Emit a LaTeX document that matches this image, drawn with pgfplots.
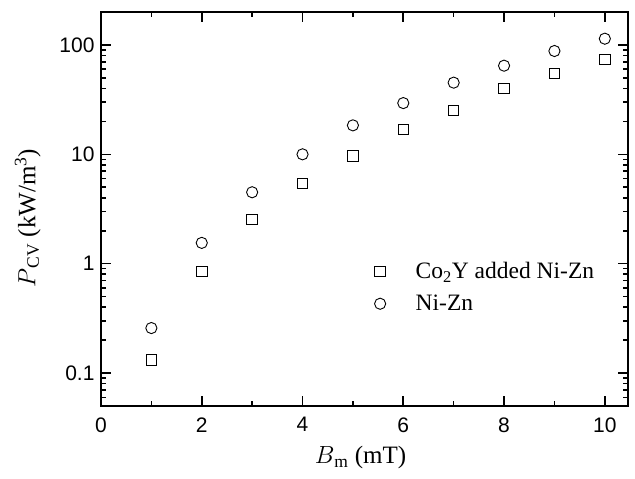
\documentclass[border=0pt]{standalone}
\usepackage{fontspec}
\setmainfont{Liberation Serif}
\newfontfamily\arialf{Liberation Sans}
\usepackage{pgfplots}
\pgfplotsset{compat=1.18}
\begin{document}
\begin{tikzpicture}
\begin{axis}[
  name=ax,
  scale only axis,
  width=527bp, height=394bp,
  ymode=log,
  xmin=0, xmax=10.46,
  ymin=0.05, ymax=200,
  xtick={0,2,...,10},
  minor xtick={1,3,...,9},
  ytick={0.1,1,10,100},
  yticklabels={0.1,1,10,100},
  minor ytick={0.05,0.06,0.07,0.08,0.09,0.2,0.3,0.4,0.5,0.6,0.7,0.8,0.9,2,3,4,5,6,7,8,9,20,30,40,50,60,70,80,90,200},
  tick align=inside,
  major tick length=10bp,
  minor tick length=5bp,
  axis line style={line width=1.6bp},
  every tick/.style={line width=1.6bp, black},
  /pgf/number format/assume math mode=true,
  tick label style={font=\arialf\fontsize{21bp}{24bp}\selectfont},
  xticklabel style={yshift=-8bp},
  yticklabel style={xshift=-3bp},
  xlabel={$B$\textsubscript{m} (mT)},
  ylabel={$P$\textsubscript{CV} (kW/m\textsuperscript{3})},
  label style={font=\fontsize{25bp}{28bp}\selectfont},
  xlabel style={yshift=-7bp, xshift=-4bp},
  ylabel style={yshift=12bp, xshift=-9bp},
  legend style={draw=none, fill=none, at={(0.513,0.375)}, anchor=north west,
    font=\fontsize{23.5bp}{27bp}\selectfont, column sep=28bp, row sep=11bp,
    legend cell align=left},
]
\addplot[only marks, mark=square, mark size=5.2bp, line width=0.9bp, black] coordinates {
(1,0.132) (2,0.845) (3,2.54) (4,5.43) (5,9.7) (6,16.8) (7,25.2) (8,39.8) (9,55) (10,74)};
\addlegendentry{Co\textsubscript{2}Y added Ni-Zn}
\addplot[only marks, mark=o, mark size=5.6bp, line width=0.9bp, black] coordinates {
(1,0.258) (2,1.55) (3,4.5) (4,10) (5,18.4) (6,29.4) (7,45.2) (8,64.6) (9,88) (10,114)};
\addlegendentry{Ni-Zn}
\end{axis}
\pgfresetboundingbox
\path ([shift={(-101bp,-72.3bp)}]ax.south west) rectangle ([shift={(7bp,12bp)}]ax.north east);
\end{tikzpicture}
\end{document}
